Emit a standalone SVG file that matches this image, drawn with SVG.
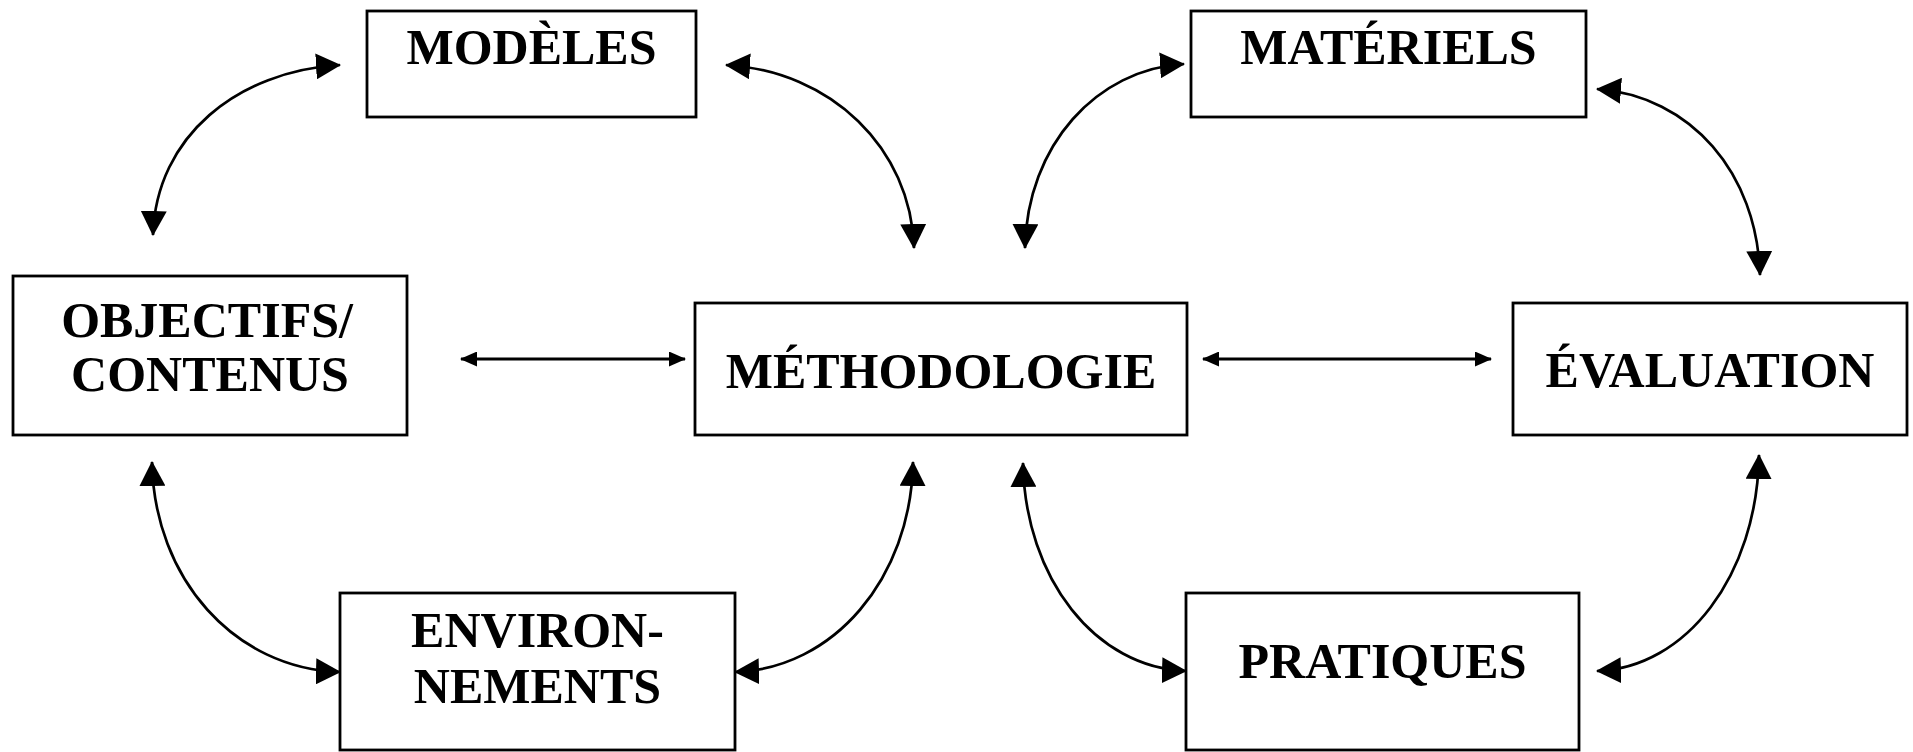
<svg xmlns="http://www.w3.org/2000/svg" width="1913" height="752" viewBox="0 0 1913 752">
<style>
.box{fill:#fff;stroke:#000;stroke-width:2.8}
.lbl{font-family:"Liberation Serif","Times New Roman",serif;font-weight:bold;font-size:50px;fill:#000;text-anchor:middle}
.curve{fill:none;stroke:#000;stroke-width:2.7;marker-start:url(#big);marker-end:url(#big)}
.straight{fill:none;stroke:#000;stroke-width:3;marker-start:url(#small);marker-end:url(#small)}
</style>
<defs>
<marker id="big" markerUnits="userSpaceOnUse" viewBox="0 0 25 26" refX="24" refY="13" markerWidth="25" markerHeight="26" orient="auto-start-reverse">
<path d="M0,0 L25,13 L0,26 z" fill="#000"/>
</marker>
<marker id="small" markerUnits="userSpaceOnUse" viewBox="0 0 17 15" refX="16" refY="7.5" markerWidth="17" markerHeight="15" orient="auto-start-reverse">
<path d="M0,0 L17,7.5 L0,15 z" fill="#000"/>
</marker>
</defs>
<rect width="1913" height="752" fill="#fff"/>
<g id="connectors">
<path class="curve" d="M153,235 C156,136 238,71 340,65"/>
<path class="curve" d="M726,65 C831,71 911,148 914,248"/>
<path class="curve" d="M1025,248 C1027,145 1097,69 1184,64"/>
<path class="curve" d="M1597,89 C1691,96 1757,173 1760,275"/>
<path class="curve" d="M152,462 C154,579 235,669 340,672"/>
<path class="curve" d="M913,462 C911,579 833,669 735,672"/>
<path class="curve" d="M1023,463 C1025,579 1096,668 1186,671"/>
<path class="curve" d="M1759,455 C1757,576 1686,668 1597,671"/>
<path class="straight" d="M461,359 L685,359"/>
<path class="straight" d="M1203,359 L1491,359"/>
</g>
<g id="modeles">
<rect class="box" x="367" y="11" width="329" height="106"/>
<text class="lbl" x="531.5" y="64">MODÈLES</text>
</g>
<g id="materiels">
<rect class="box" x="1191" y="11" width="395" height="106"/>
<text class="lbl" x="1388.5" y="64">MATÉRIELS</text>
</g>
<g id="objectifs">
<rect class="box" x="13" y="276" width="394" height="159"/>
<text class="lbl" x="207" y="337">OBJECTIFS/</text>
<text class="lbl" x="210" y="391">CONTENUS</text>
</g>
<g id="methodologie">
<rect class="box" x="695" y="303" width="492" height="132"/>
<text class="lbl" x="941" y="388">MÉTHODOLOGIE</text>
</g>
<g id="evaluation">
<rect class="box" x="1513" y="303" width="394" height="132"/>
<text class="lbl" x="1710" y="387">ÉVALUATION</text>
</g>
<g id="environnements">
<rect class="box" x="340" y="593" width="395" height="157"/>
<text class="lbl" x="537.5" y="647">ENVIRON-</text>
<text class="lbl" x="537.5" y="703">NEMENTS</text>
</g>
<g id="pratiques">
<rect class="box" x="1186" y="593" width="393" height="157"/>
<text class="lbl" x="1382.5" y="678">PRATIQUES</text>
</g>
</svg>
